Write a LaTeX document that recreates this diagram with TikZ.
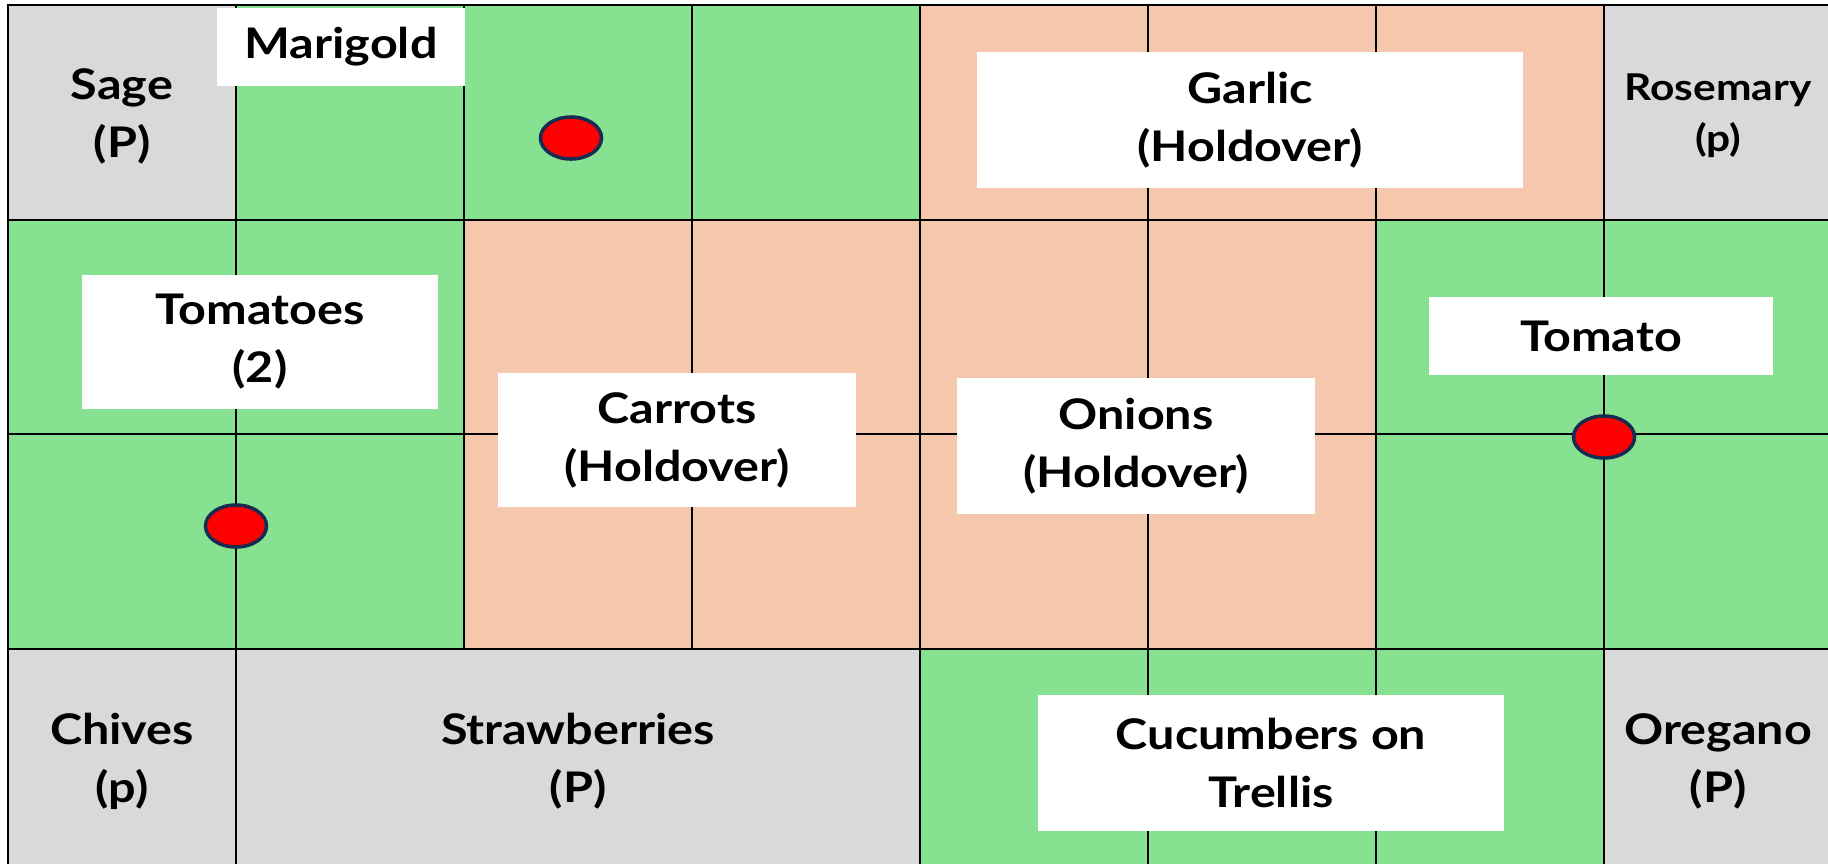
\documentclass[tikz,border=0pt]{standalone}
\usepackage{fontspec}
\setmainfont{Lato}[FakeStretch=1.15]
\usepackage{xcolor}
\usetikzlibrary{shapes.geometric}
\definecolor{bedgreen}{HTML}{86E291}
\definecolor{bedpeach}{HTML}{F5C7AD}
\definecolor{bedgrey}{HTML}{D9D9D9}
\definecolor{dotline}{HTML}{172C51}

\begin{document}
\begin{tikzpicture}[x=0.01cm,y=-0.01cm,
  bedline/.style={line width=0.8pt,color=black,line cap=rect},
  plant/.style={font=\bfseries\fontsize{12}{16.5}\selectfont,align=center,inner sep=0pt},
  smallplant/.style={font=\bfseries\fontsize{10.5}{14.5}\selectfont,align=center,inner sep=0pt},
  tag/.style={plant,fill=white},
  reddot/.style={ellipse,draw=dotline,fill=red,line width=1pt,inner sep=0pt,
    minimum width=0.61cm,minimum height=0.42cm}]
\useasboundingbox (0,0) rectangle (1828,863);
\clip (0,0) rectangle (1828,863);

% beds, one row at a time
\foreach\c[count=\i from 0] in {bedgrey,bedgreen,bedgreen,bedgreen,bedpeach,bedpeach,bedpeach,bedgrey}{\fill[\c](8+228*\i,5) rectangle ++(228,215);};
\foreach\c[count=\i from 0] in {bedgreen,bedgreen,bedpeach,bedpeach,bedpeach,bedpeach,bedgreen,bedgreen}{\fill[\c](8+228*\i,220) rectangle ++(228,214);};
\foreach\c[count=\i from 0] in {bedgreen,bedgreen,bedpeach,bedpeach,bedpeach,bedpeach,bedgreen,bedgreen}{\fill[\c](8+228*\i,434) rectangle ++(228,215);};
\foreach\c[count=\i from 0] in {bedgrey,bedgrey,bedgrey,bedgrey,bedgreen,bedgreen,bedgreen,bedgrey}{\fill[\c](8+228*\i,649) rectangle ++(228,230);};

% grid
\foreach\x in {8,236,920,1148,1376,1604}{\draw[bedline](\x,5)--(\x,880);};
\foreach\x in {464,692}{\draw[bedline](\x,5)--(\x,649);};
\foreach\y in {5,220,434,649}{\draw[bedline](8,\y)--(1840,\y);};

% perennials
\node[plant] (sage) at (122,116) {Sage\\(P)};
\node[smallplant] (rosemary) at (1718,116) {Rosemary\\(p)};
\node[plant] (chives) at (122,761) {Chives\\(p)};
\node[plant] (strawberries) at (578,761) {Strawberries\\(P)};
\node[plant] (oregano) at (1718,761) {Oregano\\(P)};

% labels
\node[tag,minimum width=2.47cm,minimum height=0.77cm] (marigold) at (341,47) {Marigold};
\node[tag,minimum width=5.46cm,minimum height=1.36cm] (garlic) at (1250,120) {Garlic\\(Holdover)};
\node[tag,minimum width=3.56cm,minimum height=1.34cm] (tomatoes) at (260,342) {Tomatoes\\(2)};
\node[tag,minimum width=3.58cm,minimum height=1.34cm] (carrots) at (677,440) {Carrots\\(Holdover)};
\node[tag,minimum width=3.58cm,minimum height=1.36cm] (onions) at (1136,446) {Onions\\(Holdover)};
\node[tag,minimum width=3.43cm,minimum height=0.77cm] (tomato) at (1601,336) {Tomato};
\node[tag,minimum width=4.66cm,minimum height=1.36cm] (cucumbers) at (1271,763) {Cucumbers on\\Trellis};

% plants
\node[reddot] (dotA) at (571,138) {};
\node[reddot] (dotB) at (236,526) {};
\node[reddot] (dotC) at (1604,437) {};
\end{tikzpicture}
\end{document}
